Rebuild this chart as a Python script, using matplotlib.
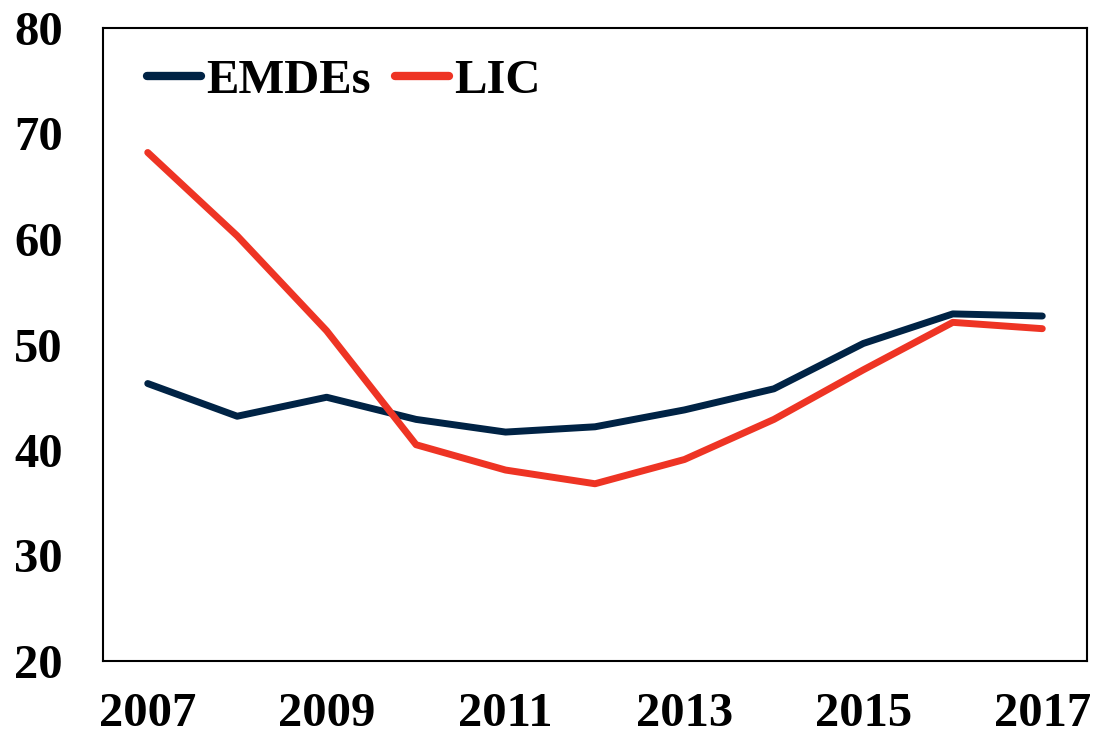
import matplotlib
matplotlib.use("Agg")
import matplotlib.pyplot as plt

years = [2007, 2008, 2009, 2010, 2011, 2012, 2013, 2014, 2015, 2016, 2017]
emdes = [46.3, 43.2, 45.0, 42.9, 41.7, 42.2, 43.8, 45.8, 50.1, 52.9, 52.7]
lic = [68.2, 60.3, 51.3, 40.5, 38.1, 36.8, 39.1, 42.9, 47.6, 52.1, 51.5]
xticks = [2007, 2009, 2011, 2013, 2015, 2017]
yticks = [20, 30, 40, 50, 60, 70, 80]

plt.rcParams['font.family'] = ['Liberation Serif', 'DejaVu Serif']
plt.rcParams['font.weight'] = 'bold'

FS = 35
fig = plt.figure(figsize=(10.94, 7.37), dpi=100)
ax = fig.add_axes([103/1094, 1-661/737, (1087-103)/1094, (661-28)/737])

ax.plot(years, emdes, color='#002345', lw=5, label='EMDEs', solid_capstyle='round')
ax.plot(years, lic, color='#EE3424', lw=5, label='LIC', solid_capstyle='round')

ax.set_xlim(2006.5, 2017.5)
ax.set_ylim(20, 80)
ax.set_xticks(xticks)
ax.set_yticks(yticks)
ax.tick_params(length=0, labelsize=FS)
ax.tick_params(axis='x', pad=22)
ax.tick_params(axis='y', pad=29)
for lab in ax.get_xticklabels() + ax.get_yticklabels():
    lab.set_fontweight('bold')
for s in ax.spines.values():
    s.set_linewidth(1.5)

leg = ax.legend(loc='upper left', ncol=2, frameon=False,
                prop={'weight': 'bold', 'size': FS},
                handlelength=1.1, handletextpad=0.12, columnspacing=0.5,
                bbox_to_anchor=(0.025, 0.982), borderaxespad=0)
for h in leg.get_lines():
    h.set_linewidth(6)
    h.set_solid_capstyle('round')

fig.savefig('out.png', dpi=100)
